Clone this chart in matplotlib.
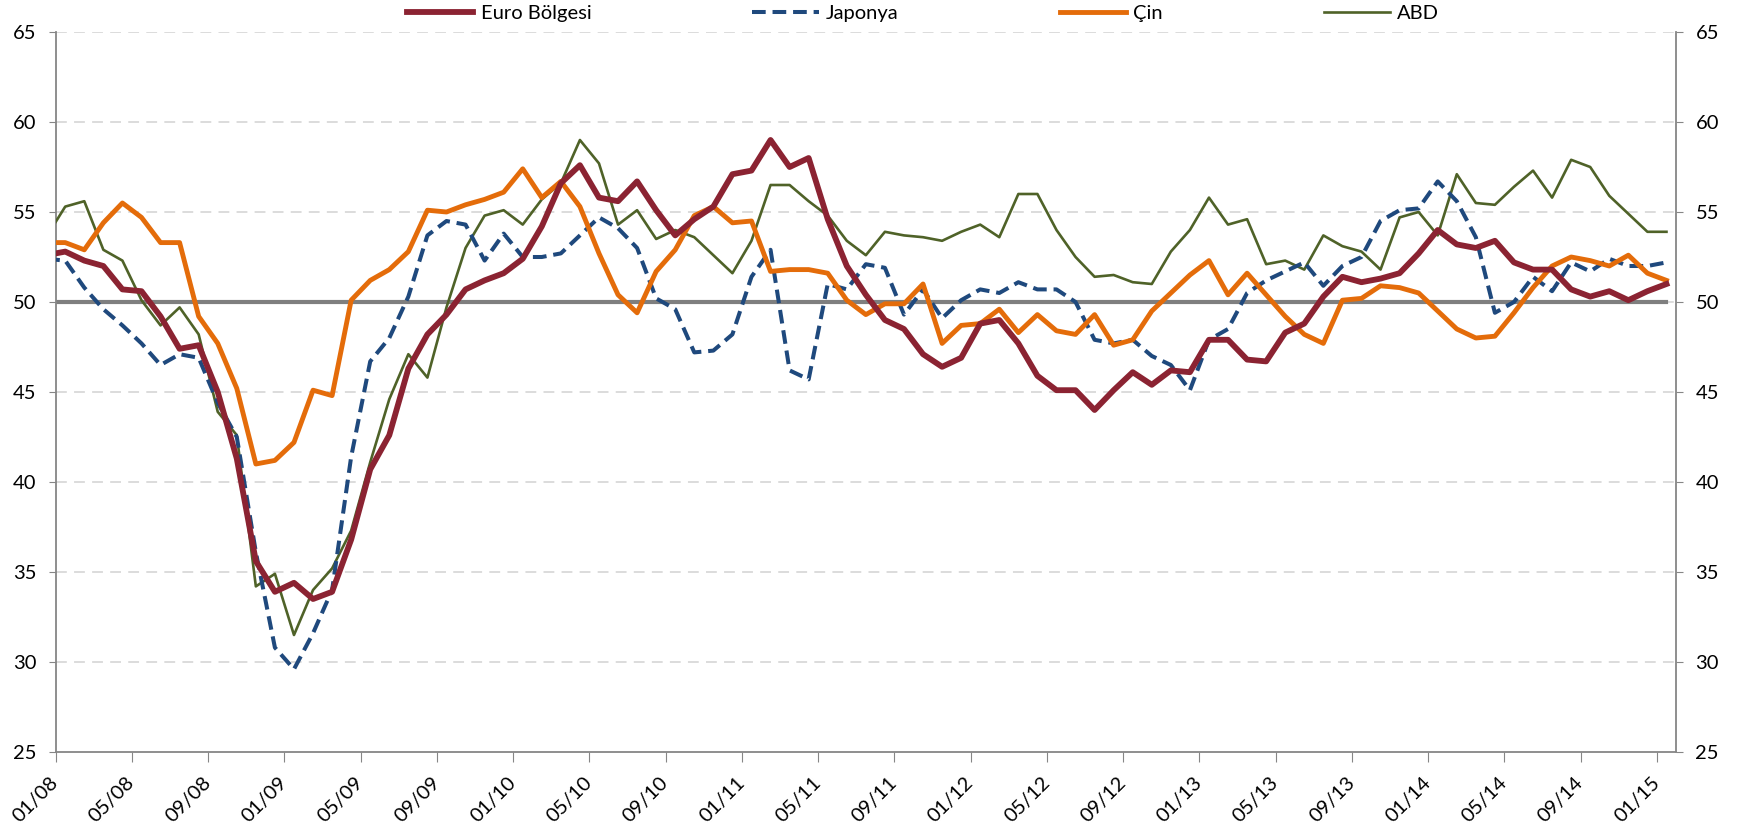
import numpy as np
import matplotlib
matplotlib.use("Agg")
from matplotlib import pyplot as plt

plt.rcParams['font.family'] = ['Lato', 'DejaVu Sans']

# aylik veri, 12/07 - 01/15 (ilk nokta eksen disinda kalir)
euro = [52.6,
        52.8, 52.3, 52.0, 50.7, 50.6, 49.2, 47.4, 47.6, 45.0, 41.3, 35.6, 33.9,
        34.4, 33.5, 33.9, 36.8, 40.7, 42.6, 46.3, 48.2, 49.3, 50.7, 51.2, 51.6,
        52.4, 54.2, 56.6, 57.6, 55.8, 55.6, 56.7, 55.1, 53.7, 54.6, 55.3, 57.1,
        57.3, 59.0, 57.5, 58.0, 54.6, 52.0, 50.4, 49.0, 48.5, 47.1, 46.4, 46.9,
        48.8, 49.0, 47.7, 45.9, 45.1, 45.1, 44.0, 45.1, 46.1, 45.4, 46.2, 46.1,
        47.9, 47.9, 46.8, 46.7, 48.3, 48.8, 50.3, 51.4, 51.1, 51.3, 51.6, 52.7,
        54.0, 53.2, 53.0, 53.4, 52.2, 51.8, 51.8, 50.7, 50.3, 50.6, 50.1, 50.6,
        51.0]

japonya = [52.4,
           52.3, 50.8, 49.6, 48.7, 47.7, 46.5, 47.1, 46.9, 44.4, 42.5, 36.1, 30.8,
           29.6, 31.6, 34.0, 41.4, 46.7, 48.0, 50.3, 53.7, 54.5, 54.3, 52.3, 53.8,
           52.5, 52.5, 52.7, 53.7, 54.7, 54.1, 53.0, 50.2, 49.6, 47.2, 47.3, 48.2,
           51.4, 52.9, 46.2, 45.7, 51.0, 50.7, 52.1, 51.9, 49.3, 50.7, 49.1, 50.1,
           50.7, 50.5, 51.1, 50.7, 50.7, 50.0, 47.9, 47.7, 47.9, 47.0, 46.5, 45.1,
           47.9, 48.5, 50.5, 51.2, 51.7, 52.2, 50.9, 52.0, 52.5, 54.5, 55.1, 55.2,
           56.7, 55.6, 53.6, 49.4, 50.0, 51.4, 50.6, 52.2, 51.7, 52.4, 52.0, 52.0,
           52.2]

cin = [53.3,
       53.3, 52.9, 54.4, 55.5, 54.7, 53.3, 53.3, 49.2, 47.7, 45.2, 41.0, 41.2,
       42.2, 45.1, 44.8, 50.1, 51.2, 51.8, 52.8, 55.1, 55.0, 55.4, 55.7, 56.1,
       57.4, 55.8, 56.7, 55.3, 52.7, 50.4, 49.4, 51.7, 52.9, 54.8, 55.3, 54.4,
       54.5, 51.7, 51.8, 51.8, 51.6, 50.1, 49.3, 49.9, 49.9, 51.0, 47.7, 48.7,
       48.8, 49.6, 48.3, 49.3, 48.4, 48.2, 49.3, 47.6, 47.9, 49.5, 50.5, 51.5,
       52.3, 50.4, 51.6, 50.4, 49.2, 48.2, 47.7, 50.1, 50.2, 50.9, 50.8, 50.5,
       49.5, 48.5, 48.0, 48.1, 49.4, 50.8, 52.0, 52.5, 52.3, 52.0, 52.6, 51.6,
       51.2]

abd = [53.6,
       55.3, 55.6, 52.9, 52.3, 50.1, 48.7, 49.7, 48.2, 43.9, 42.6, 34.2, 34.9,
       31.5, 34.0, 35.2, 37.3, 41.1, 44.6, 47.1, 45.8, 49.7, 53.0, 54.8, 55.1,
       54.3, 55.7, 56.6, 59.0, 57.7, 54.3, 55.1, 53.5, 54.0, 53.6, 52.6, 51.6,
       53.4, 56.5, 56.5, 55.6, 54.8, 53.4, 52.6, 53.9, 53.7, 53.6, 53.4, 53.9,
       54.3, 53.6, 56.0, 56.0, 54.0, 52.5, 51.4, 51.5, 51.1, 51.0, 52.8, 54.0,
       55.8, 54.3, 54.6, 52.1, 52.3, 51.8, 53.7, 53.1, 52.8, 51.8, 54.7, 55.0,
       53.7, 57.1, 55.5, 55.4, 56.4, 57.3, 55.8, 57.9, 57.5, 55.9, 54.9, 53.9,
       53.9]

esik = [50.0] * len(euro)

tick_labels = ["01/08", "05/08", "09/08", "01/09", "05/09", "09/09", "01/10",
               "05/10", "09/10", "01/11", "05/11", "09/11", "01/12", "05/12",
               "09/12", "01/13", "05/13", "09/13", "01/14", "05/14", "09/14",
               "01/15"]

# ay ortasi konumlari, 01/08 ekseni = 0
x = np.arange(len(euro)) - 0.5

fig = plt.figure(figsize=(17.46, 8.30), dpi=100)
ax = fig.add_axes([55.7 / 1746, 1 - 752 / 830, (1676 - 55.7) / 1746, 720 / 830])

ax.plot(x, esik, color="#7F7F7F", lw=3.0, zorder=2)
l_abd, = ax.plot(x, abd, color="#4F6228", lw=1.9, zorder=3)
l_jp, = ax.plot(x, japonya, color="#1F497D", lw=2.9, dashes=(3.4, 1.7), zorder=4)
l_cin, = ax.plot(x, cin, color="#E46C0A", lw=3.5, zorder=5)
l_euro, = ax.plot(x, euro, color="#8B2332", lw=4.2, zorder=6)

ax.set_xlim(0, 85)
ax.set_ylim(25, 65)
ax.set_yticks(np.arange(25, 66, 5))
ax.set_xticks(np.arange(0, 85, 4))
ax.set_xticklabels(tick_labels, rotation=45, ha="right", va="center",
                   rotation_mode="anchor", fontsize=14.5)

for v in range(30, 66, 5):
    ax.axhline(v, color="#D9D9D9", lw=1.3, dashes=(6, 4), zorder=1)

for s in ["left", "right", "bottom"]:
    ax.spines[s].set_color("#868686")
    ax.spines[s].set_linewidth(1.3)
ax.spines["top"].set_visible(False)

ax.tick_params(axis="y", which="both", direction="out", length=5,
               color="#868686", labelsize=14.5, left=True, right=True,
               labelleft=True, labelright=True, pad=9)
ax.tick_params(axis="x", direction="out", length=7, color="#868686", pad=13)

fig.legend([l_euro, l_jp, l_cin, l_abd],
           ["Euro Bölgesi", "Japonya", "Çin", "ABD"], ncol=4,
           loc="center left", bbox_to_anchor=(407 / 1746, 1 - 13.5 / 830),
           frameon=False, fontsize=14.5, handlelength=3.3, handletextpad=0.35,
           columnspacing=8.0, borderpad=0, borderaxespad=0)

fig.savefig("out.png", dpi=100)
